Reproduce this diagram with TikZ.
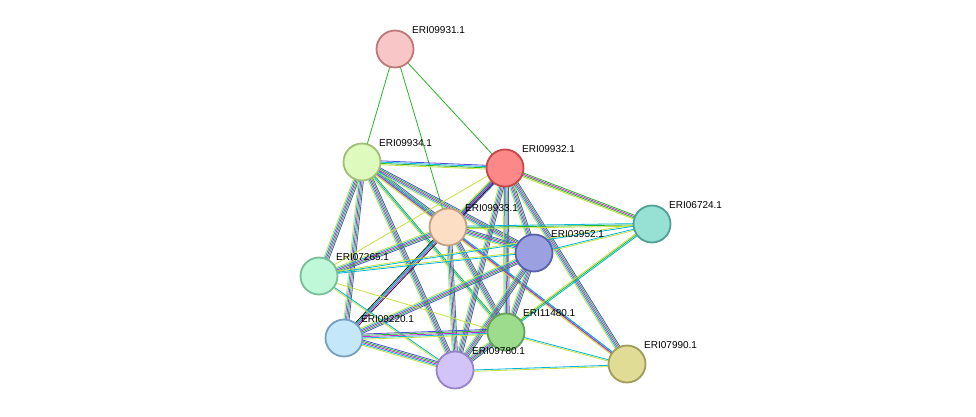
\documentclass[tikz,border=0pt]{standalone}
\usepackage{fontspec}
\setmainfont{Liberation Sans}
\usetikzlibrary{calc}
\definecolor{tmC}{RGB}{199,224,60}
\definecolor{dbC}{RGB}{0,180,220}
\definecolor{exC}{RGB}{200,40,200}
\definecolor{nbC}{RGB}{40,180,40}
\definecolor{hoC}{RGB}{80,80,220}
\definecolor{coC}{RGB}{30,30,30}
\tikzset{
  prot/.style={circle,minimum size=37pt,inner sep=0pt,line width=1.8pt},
  lbl/.style={anchor=south west,font=\fontsize{10}{12}\selectfont,inner sep=1pt},
  strand/.style={line width=0.8pt}
}
% Syntax: \sedge{from}{to}{list of colours}
\newcommand\sedge[3]{%
  \edef\strandlist{#3}%
  \foreach \c [count=\i] in \strandlist {
    \draw[strand,\c] ($(#1)!{(\i-2.5)*1.3pt}!90:(#2)$) -- ($(#2)!{(\i-2.5)*1.3pt}!-90:(#1)$);
  }}
\def\full{tmC,dbC,exC,nbC,hoC}
\begin{document}
\begin{tikzpicture}[x=1pt,y=-1pt]
  \useasboundingbox (0,0) rectangle (976,416);
  % positions
  \coordinate (p31) at (395,49);
  \coordinate (p34) at (362,162);
  \coordinate (p32) at (505,168);
  \coordinate (p24) at (652,224);
  \coordinate (p33) at (448,227);
  \coordinate (p52) at (534,253);
  \coordinate (p65) at (319,276);
  \coordinate (p20) at (344,338);
  \coordinate (p80) at (506,332);
  \coordinate (p78) at (455,370);
  \coordinate (p90) at (627,364);

  % edges
  \draw[strand,nbC] (p31) -- (p34);
  \draw[strand,nbC] (p31) -- (p33);
  \draw[strand,nbC] (p31) -- (p32);
  \sedge{p34}{p32}{tmC,nbC,dbC,hoC}
  \sedge{p34}{p33}{\full}
  \sedge{p34}{p52}{\full}
  \sedge{p34}{p65}{\full}
  \sedge{p34}{p20}{\full}
  \sedge{p34}{p78}{\full}
  \sedge{p34}{p80}{tmC,dbC,nbC}
  \sedge{p34}{p90}{tmC,exC,dbC}
  \sedge{p32}{p24}{tmC,nbC,exC,nbC}
  \sedge{p32}{p33}{tmC,coC,exC,dbC,hoC}
  \sedge{p32}{p52}{\full}
  \sedge{p32}{p65}{tmC}
  \sedge{p32}{p20}{tmC,dbC,exC,coC}
  \sedge{p32}{p80}{\full}
  \sedge{p32}{p78}{\full}
  \sedge{p32}{p90}{\full}
  \sedge{p33}{p24}{tmC,nbC,dbC}
  \sedge{p33}{p52}{\full}
  \sedge{p33}{p65}{\full}
  \sedge{p33}{p20}{coC,dbC}
  \sedge{p33}{p80}{\full}
  \sedge{p33}{p78}{\full}
  \sedge{p33}{p90}{tmC,exC,dbC}
  \sedge{p52}{p24}{tmC,dbC}
  \sedge{p52}{p65}{tmC,dbC}
  \sedge{p52}{p20}{\full}
  \sedge{p52}{p80}{\full}
  \sedge{p52}{p78}{\full}
  \sedge{p24}{p80}{tmC,nbC,dbC}
  \sedge{p24}{p65}{tmC,dbC}
  \sedge{p65}{p78}{tmC,dbC}
  \sedge{p65}{p80}{tmC}
  \sedge{p20}{p80}{\full}
  \sedge{p20}{p78}{\full}
  \sedge{p80}{p78}{\full}
  \sedge{p78}{p90}{tmC,dbC}
  \sedge{p80}{p90}{tmC,dbC}

  % proteins
  \node[prot,fill={rgb,255:red,248;green,198;blue,198},draw={rgb,255:red,190;green,120;blue,120}] (n31) at (p31) {};
  \node[prot,fill={rgb,255:red,222;green,250;blue,188},draw={rgb,255:red,160;green,190;blue,120}] (n34) at (p34) {};
  \node[prot,fill={rgb,255:red,252;green,136;blue,136},draw={rgb,255:red,200;green,70;blue,70}] (n32) at (p32) {};
  \node[prot,fill={rgb,255:red,150;green,224;blue,212},draw={rgb,255:red,80;green,160;blue,150}] (n24) at (p24) {};
  \node[prot,fill={rgb,255:red,252;green,222;blue,196},draw={rgb,255:red,196;green,160;blue,130}] (n33) at (p33) {};
  \node[prot,fill={rgb,255:red,154;green,160;blue,224},draw={rgb,255:red,90;green,96;blue,170}] (n52) at (p52) {};
  \node[prot,fill={rgb,255:red,190;green,248;blue,216},draw={rgb,255:red,120;green,190;blue,150}] (n65) at (p65) {};
  \node[prot,fill={rgb,255:red,196;green,232;blue,250},draw={rgb,255:red,120;green,160;blue,190}] (n20) at (p20) {};
  \node[prot,fill={rgb,255:red,156;green,220;blue,140},draw={rgb,255:red,100;green,160;blue,90}] (n80) at (p80) {};
  \node[prot,fill={rgb,255:red,210;green,196;blue,248},draw={rgb,255:red,150;green,130;blue,200}] (n78) at (p78) {};
  \node[prot,fill={rgb,255:red,224;green,220;blue,150},draw={rgb,255:red,160;green,156;blue,90}] (n90) at (p90) {};

  % labels
  \foreach \n/\t in {31/ERI09931.1,34/ERI09934.1,32/ERI09932.1,24/ERI06724.1,33/ERI09933.1,52/ERI03952.1,65/ERI07265.1,20/ERI09220.1,80/ERI11480.1,78/ERI09780.1,90/ERI07990.1}
    \node[lbl] at ($(p\n)+(16,-14)$) {\t};
\end{tikzpicture}
\end{document}
